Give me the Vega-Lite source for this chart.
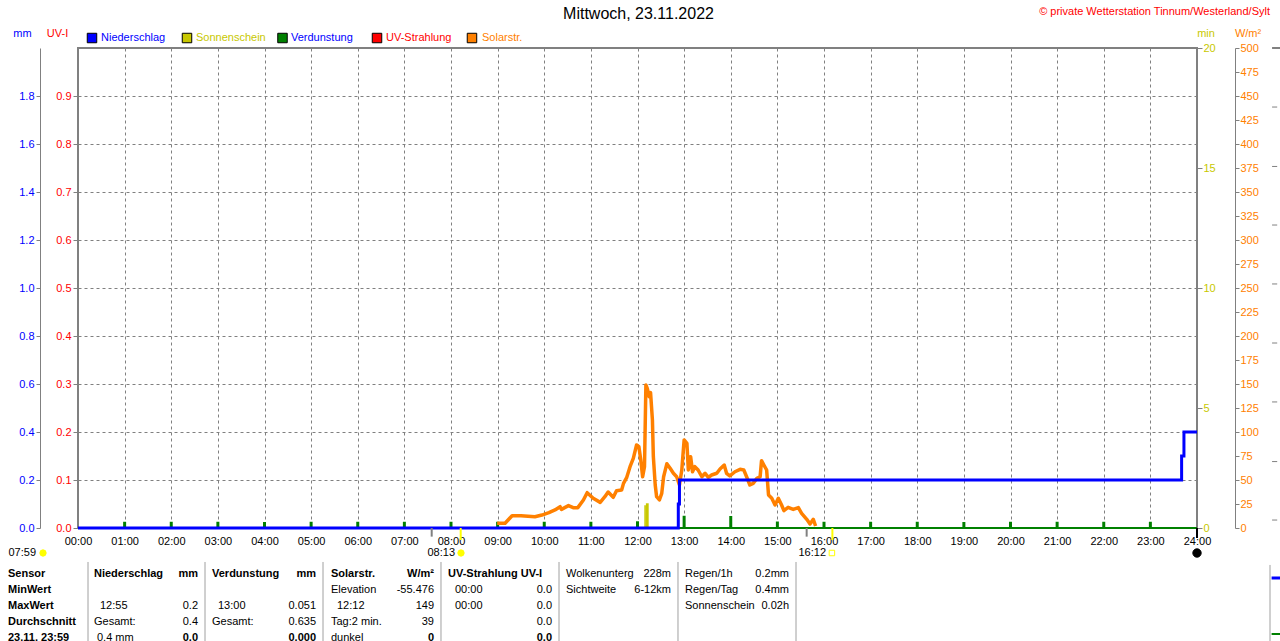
{
"$schema":"https://vega.github.io/schema/vega-lite/v6.json",
"width":1119,"height":480,
"autosize":"none",
"padding":{"left":78,"top":48,"right":83,"bottom":113},
"background":"white",
"config":{"view":{"stroke":"#808080","strokeWidth":2},"font":"Liberation Sans","axis":{"labelFont":"Liberation Sans","titleFont":"Liberation Sans","labelFontSize":11,"titleFontSize":11,"titleFontWeight":"normal","domainColor":"#808080","tickColor":"#808080","gridColor":"#808080","gridDash":[3,3],"labelFlush":false,"labelOverlap":false,"labelBound":false},"text":{"font":"Liberation Sans","fontSize":11}},
"datasets":{
"uv":[{"t":0,"uv":0},{"t":24,"uv":0}],
"evapBase":[{"t":0,"evap":0},{"t":24,"evap":0}],
"evap":[{"t":1,"evap":0.026},{"t":2,"evap":0.026},{"t":3,"evap":0.026},{"t":4,"evap":0.025},{"t":5,"evap":0.026},{"t":6,"evap":0.026},{"t":7,"evap":0.026},{"t":8,"evap":0.026},{"t":9,"evap":0.026},{"t":10,"evap":0.026},{"t":11,"evap":0.026},{"t":12,"evap":0.028},{"t":13,"evap":0.051},{"t":14,"evap":0.05},{"t":15,"evap":0.027},{"t":16,"evap":0.026},{"t":17,"evap":0.026},{"t":18,"evap":0.026},{"t":19,"evap":0.025},{"t":20,"evap":0.026},{"t":21,"evap":0.026},{"t":22,"evap":0.026},{"t":23,"evap":0.026}],
"sun":[{"t":12.146,"t2":12.18,"sun":0.95},{"t":12.18,"t2":12.24,"sun":1.03}],
"solar":[{"t":8.99,"w":4.9},{"t":9.16,"w":5},{"t":9.31,"w":12.8},{"t":9.5,"w":12.8},{"t":9.8,"w":11.8},{"t":9.95,"w":13.5},{"t":10.1,"w":16},{"t":10.23,"w":18.8},{"t":10.34,"w":22.2},{"t":10.37,"w":19.4},{"t":10.52,"w":23.3},{"t":10.62,"w":21.2},{"t":10.72,"w":21.2},{"t":10.84,"w":29.2},{"t":10.92,"w":36.8},{"t":11.05,"w":30.9},{"t":11.2,"w":26.7},{"t":11.3,"w":32.6},{"t":11.37,"w":37.5},{"t":11.48,"w":32},{"t":11.55,"w":38.9},{"t":11.66,"w":39.6},{"t":11.7,"w":46.5},{"t":11.77,"w":52.8},{"t":11.84,"w":63.9},{"t":11.91,"w":72.6},{"t":11.98,"w":86.5},{"t":12.03,"w":84.7},{"t":12.07,"w":70.8},{"t":12.11,"w":53.4},{"t":12.15,"w":63.9},{"t":12.18,"w":149},{"t":12.21,"w":145.5},{"t":12.25,"w":136.8},{"t":12.28,"w":141},{"t":12.32,"w":112.5},{"t":12.34,"w":74.3},{"t":12.38,"w":44.8},{"t":12.41,"w":32.6},{"t":12.47,"w":29.2},{"t":12.52,"w":36.1},{"t":12.56,"w":53.4},{"t":12.63,"w":67},{"t":12.7,"w":62.2},{"t":12.77,"w":57},{"t":12.84,"w":53.4},{"t":12.9,"w":44.8},{"t":12.95,"w":60.4},{"t":13.0,"w":91.7},{"t":13.06,"w":88.2},{"t":13.09,"w":60.4},{"t":13.14,"w":74.3},{"t":13.18,"w":58.6},{"t":13.23,"w":63.9},{"t":13.3,"w":60.4},{"t":13.38,"w":53.4},{"t":13.45,"w":57},{"t":13.52,"w":52.8},{"t":13.59,"w":55.2},{"t":13.7,"w":57},{"t":13.77,"w":61.5},{"t":13.86,"w":65.6},{"t":13.91,"w":57},{"t":13.98,"w":54.2},{"t":14.09,"w":58.6},{"t":14.2,"w":61.1},{"t":14.28,"w":60.4},{"t":14.34,"w":53.4},{"t":14.41,"w":44.8},{"t":14.48,"w":46.5},{"t":14.56,"w":51.7},{"t":14.63,"w":53.4},{"t":14.66,"w":70.1},{"t":14.71,"w":65.6},{"t":14.77,"w":60.4},{"t":14.81,"w":34.4},{"t":14.88,"w":30.9},{"t":14.95,"w":24},{"t":15.02,"w":30.9},{"t":15.09,"w":24},{"t":15.14,"w":18.1},{"t":15.23,"w":21.5},{"t":15.34,"w":19.4},{"t":15.45,"w":21.2},{"t":15.52,"w":15.3},{"t":15.63,"w":9},{"t":15.7,"w":4.2},{"t":15.77,"w":9},{"t":15.82,"w":2.1}],
"rain":[{"t":0,"rain":0},{"t":12.875,"rain":0.1},{"t":12.9,"rain":0.2},{"t":23.67,"rain":0.3},{"t":23.72,"rain":0.4},{"t":24,"rain":0.4}],
"txt":[
{"t":12.0215,"ay":534.9,"text":"Mittwoch, 23.11.2022","col":"#000000","s":"title"},
{"t":0.4933,"ay":510.4,"text":"Niederschlag","col":"#0000FF","s":"nl"},
{"t":2.531,"ay":510.4,"text":"Sonnenschein","col":"#C8C800","s":"nl"},
{"t":4.568,"ay":510.4,"text":"Verdunstung","col":"#0000FF","s":"nl"},
{"t":6.606,"ay":510.4,"text":"UV-Strahlung","col":"#FF0000","s":"nl"},
{"t":8.665,"ay":510.4,"text":"Solarstr.","col":"#FF8000","s":"nl"},
{"t":25.5657,"ay":537.5,"text":"© private Wetterstation Tinnum/Westerland/Sylt","col":"#FF0000","s":"nr"},
{"t":-0.9008,"ay":-26.04,"text":"07:59","col":"#000000","s":"nr"},
{"t":8.0858,"ay":-26.04,"text":"08:13","col":"#000000","s":"nr"},
{"t":16.043,"ay":-26.04,"text":"16:12","col":"#000000","s":"nr"},
{"t":-1.5013,"ay":-47.92,"text":"Sensor","col":"#000000","s":"bl"},
{"t":-1.5013,"ay":-64.58,"text":"MinWert","col":"#000000","s":"bl"},
{"t":-1.5013,"ay":-81.25,"text":"MaxWert","col":"#000000","s":"bl"},
{"t":-1.5013,"ay":-97.92,"text":"Durchschnitt","col":"#000000","s":"bl"},
{"t":-1.5013,"ay":-114.58,"text":"23.11. 23:59","col":"#000000","s":"bl"},
{"t":0.3432,"ay":-47.92,"text":"Niederschlag","col":"#000000","s":"bl"},
{"t":2.5737,"ay":-47.92,"text":"mm","col":"#000000","s":"br"},
{"t":0.4718,"ay":-81.25,"text":"12:55","col":"#000000","s":"nl"},
{"t":2.5737,"ay":-81.25,"text":"0.2","col":"#000000","s":"nr"},
{"t":0.3432,"ay":-97.92,"text":"Gesamt:","col":"#000000","s":"nl"},
{"t":2.5737,"ay":-97.92,"text":"0.4","col":"#000000","s":"nr"},
{"t":0.4075,"ay":-114.58,"text":"0.4 mm","col":"#000000","s":"nl"},
{"t":2.5737,"ay":-114.58,"text":"0.0","col":"#000000","s":"br"},
{"t":2.874,"ay":-47.92,"text":"Verdunstung","col":"#000000","s":"bl"},
{"t":5.1046,"ay":-47.92,"text":"mm","col":"#000000","s":"br"},
{"t":3.0027,"ay":-81.25,"text":"13:00","col":"#000000","s":"nl"},
{"t":5.1046,"ay":-81.25,"text":"0.051","col":"#000000","s":"nr"},
{"t":2.874,"ay":-97.92,"text":"Gesamt:","col":"#000000","s":"nl"},
{"t":5.1046,"ay":-97.92,"text":"0.635","col":"#000000","s":"nr"},
{"t":5.1046,"ay":-114.58,"text":"0.000","col":"#000000","s":"br"},
{"t":5.4263,"ay":-47.92,"text":"Solarstr.","col":"#000000","s":"bl"},
{"t":7.6354,"ay":-47.92,"text":"W/m²","col":"#000000","s":"br"},
{"t":5.4263,"ay":-64.58,"text":"Elevation","col":"#000000","s":"nl"},
{"t":7.6354,"ay":-64.58,"text":"-55.476","col":"#000000","s":"nr"},
{"t":5.555,"ay":-81.25,"text":"12:12","col":"#000000","s":"nl"},
{"t":7.6354,"ay":-81.25,"text":"149","col":"#000000","s":"nr"},
{"t":5.4263,"ay":-97.92,"text":"Tag:2 min.","col":"#000000","s":"nl"},
{"t":7.6354,"ay":-97.92,"text":"39","col":"#000000","s":"nr"},
{"t":5.4263,"ay":-114.58,"text":"dunkel","col":"#000000","s":"nl"},
{"t":7.6354,"ay":-114.58,"text":"0","col":"#000000","s":"br"},
{"t":7.9357,"ay":-47.92,"text":"UV-Strahlung UV-I","col":"#000000","s":"bl"},
{"t":8.0858,"ay":-64.58,"text":"00:00","col":"#000000","s":"nl"},
{"t":10.1662,"ay":-64.58,"text":"0.0","col":"#000000","s":"nr"},
{"t":8.0858,"ay":-81.25,"text":"00:00","col":"#000000","s":"nl"},
{"t":10.1662,"ay":-81.25,"text":"0.0","col":"#000000","s":"nr"},
{"t":10.1662,"ay":-97.92,"text":"0.0","col":"#000000","s":"nr"},
{"t":10.1662,"ay":-114.58,"text":"0.0","col":"#000000","s":"br"},
{"t":10.4665,"ay":-47.92,"text":"Wolkenunterg","col":"#000000","s":"nl"},
{"t":12.7185,"ay":-47.92,"text":"228m","col":"#000000","s":"nr"},
{"t":10.4665,"ay":-64.58,"text":"Sichtweite","col":"#000000","s":"nl"},
{"t":12.7185,"ay":-64.58,"text":"6-12km","col":"#000000","s":"nr"},
{"t":13.0188,"ay":-47.92,"text":"Regen/1h","col":"#000000","s":"nl"},
{"t":15.2493,"ay":-47.92,"text":"0.2mm","col":"#000000","s":"nr"},
{"t":13.0188,"ay":-64.58,"text":"Regen/Tag","col":"#000000","s":"nl"},
{"t":15.2493,"ay":-64.58,"text":"0.4mm","col":"#000000","s":"nr"},
{"t":13.0188,"ay":-81.25,"text":"Sonnenschein","col":"#000000","s":"nl"},
{"t":15.2493,"ay":-81.25,"text":"0.02h","col":"#000000","s":"nr"}
],
"pts":[
{"t":0.3003,"ay":510.4,"shp":"square","fill":"#0000FF","stroke":"#000000","sz":90},
{"t":2.3378,"ay":510.4,"shp":"square","fill":"#C8C800","stroke":"#000000","sz":90},
{"t":4.386,"ay":510.4,"shp":"square","fill":"#008000","stroke":"#000000","sz":90},
{"t":6.413,"ay":510.4,"shp":"square","fill":"#FF0000","stroke":"#000000","sz":90},
{"t":8.45,"ay":510.4,"shp":"square","fill":"#FF8000","stroke":"#000000","sz":90},
{"t":-0.7507,"ay":-26.04,"shp":"circle","fill":"#FFFF00","stroke":"#FFFF00","sz":40},
{"t":8.2145,"ay":-26.04,"shp":"circle","fill":"#FFFF00","stroke":"#FFFF00","sz":40},
{"t":16.17,"ay":-26.04,"shp":"square","fill":"#FFFFFF","stroke":"#FFFF00","sz":30},
{"t":24,"ay":-26.04,"shp":"circle","fill":"#000000","stroke":"#000000","sz":70}
],
"vr":[
{"t":0.2145,"ay":-35.4,"ay2":-120,"col":"#A0A0A0","sw":1},
{"t":2.7239,"ay":-35.4,"ay2":-120,"col":"#A0A0A0","sw":1},
{"t":5.2547,"ay":-35.4,"ay2":-120,"col":"#A0A0A0","sw":1},
{"t":7.7855,"ay":-35.4,"ay2":-120,"col":"#A0A0A0","sw":1},
{"t":10.3164,"ay":-35.4,"ay2":-120,"col":"#A0A0A0","sw":1},
{"t":12.8686,"ay":-35.4,"ay2":-120,"col":"#A0A0A0","sw":1},
{"t":15.3995,"ay":-35.4,"ay2":-120,"col":"#A0A0A0","sw":1},
{"t":25.5657,"ay":-38.5,"ay2":-120,"col":"#A0A0A0","sw":1},
{"t":7.586,"ay":0,"ay2":-9,"col":"#808080","sw":2},
{"t":8.208,"ay":0,"ay2":-12.5,"col":"#FFFF00","sw":2},
{"t":15.628,"ay":0,"ay2":-9,"col":"#808080","sw":2},
{"t":16.18,"ay":0,"ay2":-12.5,"col":"#FFFF00","sw":2},
{"t":24,"ay":0,"ay2":-10.4,"col":"#000000","sw":2}
],
"hr":[
{"t":25.61,"t2":25.78,"ay":500,"col":"#808080","sw":2},
{"t":25.61,"t2":25.72,"ay":438.5,"col":"#808080","sw":1},
{"t":25.61,"t2":25.72,"ay":376.6,"col":"#808080","sw":1},
{"t":25.61,"t2":25.72,"ay":315.6,"col":"#808080","sw":1},
{"t":25.61,"t2":25.72,"ay":254.2,"col":"#808080","sw":1},
{"t":25.61,"t2":25.72,"ay":192.7,"col":"#808080","sw":1},
{"t":25.61,"t2":25.72,"ay":131.3,"col":"#808080","sw":1},
{"t":25.61,"t2":25.72,"ay":69.2,"col":"#808080","sw":1},
{"t":25.61,"t2":25.72,"ay":8.3,"col":"#808080","sw":1},
{"t":25.6,"t2":25.78,"ay":-52.08,"col":"#0000FF","sw":3},
{"t":25.6,"t2":25.78,"ay":-110.4,"col":"#008000","sw":2}
]
},
"encoding":{"x":{"field":"t","type":"quantitative","scale":{"domain":[0,24],"nice":false,"zero":false,"padding":0},"axis":{"orient":"bottom","values":[0,1,2,3,4,5,6,7,8,9,10,11,12,13,14,15,16,17,18,19,20,21,22,23,24],"labelExpr":"(datum.value<10?'0':'')+datum.value+':00'","grid":true,"ticks":false,"domain":false,"labelPadding":7,"labelColor":"#000000","title":null}}},
"resolve":{"scale":{"y":"independent"}},
"layer":[
{"data":{"name":"uv"},"mark":{"type":"line","color":"#FF0000","strokeWidth":2},
 "encoding":{"y":{"field":"uv","type":"quantitative","scale":{"domain":[0,1],"nice":false,"zero":false},"axis":{"orient":"left","offset":0,"values":[0,0.1,0.2,0.3,0.4,0.5,0.6,0.7,0.8,0.9],"format":".1f","grid":true,"domain":false,"tickSize":5,"labelPadding":2,"labelColor":"#FF0000","title":"UV-I","titleColor":"#FF0000","titleAngle":0,"titleX":-21,"titleY":-15,"titleAlign":"center","titleBaseline":"middle"}}}},
{"data":{"name":"evapBase"},"mark":{"type":"line","color":"#008000","strokeWidth":2},
 "encoding":{"y":{"field":"evap","type":"quantitative","scale":{"domain":[0,2],"nice":false,"zero":false},"axis":null}}},
{"data":{"name":"evap"},"mark":{"type":"bar","color":"#008000","size":3},
 "encoding":{"y":{"field":"evap","type":"quantitative","scale":{"domain":[0,2],"nice":false,"zero":true},"axis":null},"y2":{"datum":0}}},
{"data":{"name":"sun"},"mark":{"type":"bar","color":"#C8C800"},
 "encoding":{"x2":{"field":"t2"},"y":{"field":"sun","type":"quantitative","scale":{"domain":[0,20],"nice":false,"zero":true},"axis":{"orient":"right","offset":0,"values":[0,5,10,15,20],"format":"d","grid":false,"domain":false,"tickSize":5,"labelPadding":1,"labelColor":"#C8C800","title":"min","titleColor":"#C8C800","titleAngle":0,"titleX":8.5,"titleY":-15,"titleAlign":"center","titleBaseline":"middle"}},"y2":{"datum":0}}},
{"data":{"name":"solar"},"mark":{"type":"line","color":"#FF8000","strokeWidth":3.5,"strokeJoin":"round"},
 "encoding":{"y":{"field":"w","type":"quantitative","scale":{"domain":[0,500],"nice":false,"zero":false},"axis":{"orient":"right","offset":38,"values":[0,25,50,75,100,125,150,175,200,225,250,275,300,325,350,375,400,425,450,475,500],"format":"d","grid":false,"domain":true,"tickSize":4,"labelPadding":1,"labelColor":"#FF8000","title":"W/m²","titleColor":"#FF8000","titleAngle":0,"titleX":12.5,"titleY":-15,"titleAlign":"center","titleBaseline":"middle"}}}},
{"data":{"name":"rain"},"mark":{"type":"line","color":"#0000FF","strokeWidth":3,"interpolate":"step-after"},
 "encoding":{"y":{"field":"rain","type":"quantitative","scale":{"domain":[0,2],"nice":false,"zero":false},"axis":{"orient":"left","offset":38,"values":[0,0.2,0.4,0.6,0.8,1.0,1.2,1.4,1.6,1.8],"format":".1f","grid":false,"domain":true,"tickSize":4,"labelPadding":2,"labelColor":"#0000FF","title":"mm","titleColor":"#0000FF","titleAngle":0,"titleX":-18,"titleY":-15,"titleAlign":"center","titleBaseline":"middle"}}}},
{"data":{"name":"vr"},"mark":{"type":"rule"},
 "encoding":{"y":{"field":"ay","type":"quantitative","scale":{"domain":[0,500],"nice":false,"zero":false},"axis":null},"y2":{"field":"ay2"},"color":{"field":"col","type":"nominal","scale":null},"strokeWidth":{"field":"sw","type":"quantitative","scale":null}}},
{"data":{"name":"hr"},"mark":{"type":"rule"},
 "encoding":{"x2":{"field":"t2"},"y":{"field":"ay","type":"quantitative","scale":{"domain":[0,500],"nice":false,"zero":false},"axis":null},"color":{"field":"col","type":"nominal","scale":null},"strokeWidth":{"field":"sw","type":"quantitative","scale":null}}},
{"data":{"name":"pts"},"mark":{"type":"point","filled":false,"strokeWidth":1,"opacity":1},
 "encoding":{"y":{"field":"ay","type":"quantitative","scale":{"domain":[0,500],"nice":false,"zero":false},"axis":null},"shape":{"field":"shp","type":"nominal","scale":null},"fill":{"field":"fill","type":"nominal","scale":null},"stroke":{"field":"stroke","type":"nominal","scale":null},"size":{"field":"sz","type":"quantitative","scale":null}}},
{"data":{"name":"txt"},"transform":[{"filter":"datum.s=='title'"}],"mark":{"type":"text","align":"center","baseline":"middle","fontSize":16},
 "encoding":{"y":{"field":"ay","type":"quantitative","scale":{"domain":[0,500],"nice":false,"zero":false},"axis":null},"text":{"field":"text"},"color":{"field":"col","type":"nominal","scale":null}}},
{"data":{"name":"txt"},"transform":[{"filter":"datum.s=='nl'"}],"mark":{"type":"text","align":"left","baseline":"middle","fontSize":11},
 "encoding":{"y":{"field":"ay","type":"quantitative","scale":{"domain":[0,500],"nice":false,"zero":false},"axis":null},"text":{"field":"text"},"color":{"field":"col","type":"nominal","scale":null}}},
{"data":{"name":"txt"},"transform":[{"filter":"datum.s=='nr'"}],"mark":{"type":"text","align":"right","baseline":"middle","fontSize":11},
 "encoding":{"y":{"field":"ay","type":"quantitative","scale":{"domain":[0,500],"nice":false,"zero":false},"axis":null},"text":{"field":"text"},"color":{"field":"col","type":"nominal","scale":null}}},
{"data":{"name":"txt"},"transform":[{"filter":"datum.s=='bl'"}],"mark":{"type":"text","align":"left","baseline":"middle","fontSize":11,"fontWeight":"bold"},
 "encoding":{"y":{"field":"ay","type":"quantitative","scale":{"domain":[0,500],"nice":false,"zero":false},"axis":null},"text":{"field":"text"},"color":{"field":"col","type":"nominal","scale":null}}},
{"data":{"name":"txt"},"transform":[{"filter":"datum.s=='br'"}],"mark":{"type":"text","align":"right","baseline":"middle","fontSize":11,"fontWeight":"bold"},
 "encoding":{"y":{"field":"ay","type":"quantitative","scale":{"domain":[0,500],"nice":false,"zero":false},"axis":null},"text":{"field":"text"},"color":{"field":"col","type":"nominal","scale":null}}}
]
}
